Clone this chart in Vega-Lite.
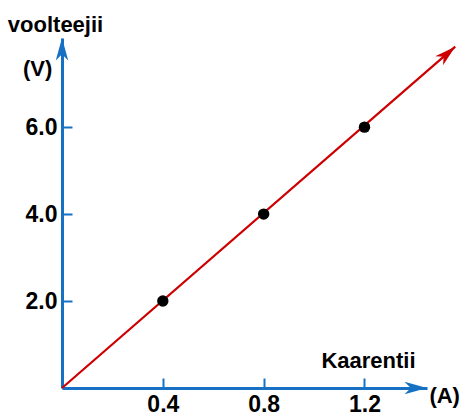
{
  "$schema": "https://vega.github.io/schema/vega-lite/v6.json",
  "width": 365,
  "height": 350,
  "autosize": {"type": "none"},
  "padding": {"left": 62, "top": 38, "right": 35, "bottom": 28},
  "background": "white",
  "config": {
    "view": {"stroke": null},
    "font": "Liberation Sans",
    "axis": {
      "domainColor": "#1670c4",
      "domainWidth": 3,
      "tickColor": "#1670c4",
      "tickWidth": 2,
      "tickSize": -10,
      "grid": false,
      "labelFont": "Liberation Sans",
      "labelFontSize": 23,
      "labelFontWeight": "bold",
      "labelColor": "black",
      "labelFlush": false,
      "labelOverlap": false,
      "titleFont": "Liberation Sans",
      "titleFontSize": 22,
      "titleFontWeight": "bold",
      "titleColor": "black",
      "titleAngle": 0,
      "titleAlign": "center",
      "titleBaseline": "alphabetic"
    }
  },
  "datasets": {
    "points": [
      {"current": 0.4, "voltage": 2},
      {"current": 0.8, "voltage": 4},
      {"current": 1.2, "voltage": 6}
    ],
    "fit": [
      {"current": 0, "voltage": 0},
      {"current": 1.56, "voltage": 7.85}
    ],
    "units": [
      {"label": "(V)", "current": -0.097, "voltage": 7.17},
      {"label": "(A)", "current": 1.518, "voltage": -0.345}
    ]
  },
  "layer": [
    {
      "data": {"name": "fit"},
      "mark": {"type": "line", "color": "#cc0000", "strokeWidth": 2.2},
      "encoding": {
        "x": {
          "field": "current",
          "type": "quantitative",
          "scale": {"domain": [0, 1.448], "nice": false, "zero": false},
          "axis": {
            "values": [0.4, 0.8, 1.2],
            "format": ".1f",
            "labelPadding": 15,
            "title": "Kaarentii",
            "titleX": 306,
            "titleY": -21
          }
        },
        "y": {
          "field": "voltage",
          "type": "quantitative",
          "scale": {"domain": [0, 8.05], "nice": false, "zero": false},
          "axis": {
            "values": [2, 4, 6],
            "format": ".1f",
            "labelPadding": 15,
            "title": "voolteejii",
            "titleX": -7,
            "titleY": -7
          }
        }
      }
    },
    {
      "data": {"name": "fit"},
      "transform": [{"filter": "datum.current > 1"}],
      "mark": {
        "type": "point",
        "shape": "M0,0 L0.5,1.8 L0,1.3 L-0.5,1.8 Z",
        "filled": true,
        "opacity": 1,
        "color": "#cc0000",
        "size": 560,
        "angle": 49
      },
      "encoding": {
        "x": {"field": "current", "type": "quantitative"},
        "y": {"field": "voltage", "type": "quantitative"}
      }
    },
    {
      "data": {"values": [{"current": 1.448, "voltage": 0}]},
      "mark": {
        "type": "point",
        "shape": "M0,0 L0.5,1.8 L0,1.3 L-0.5,1.8 Z",
        "filled": true,
        "opacity": 1,
        "color": "#1670c4",
        "size": 625,
        "angle": 90
      },
      "encoding": {
        "x": {"field": "current", "type": "quantitative"},
        "y": {"field": "voltage", "type": "quantitative"}
      }
    },
    {
      "data": {"values": [{"current": 0, "voltage": 8.05}]},
      "mark": {
        "type": "point",
        "shape": "M0,0 L0.5,1.8 L0,1.3 L-0.5,1.8 Z",
        "filled": true,
        "opacity": 1,
        "color": "#1670c4",
        "size": 625,
        "angle": 0
      },
      "encoding": {
        "x": {"field": "current", "type": "quantitative"},
        "y": {"field": "voltage", "type": "quantitative"}
      }
    },
    {
      "data": {"name": "points"},
      "mark": {"type": "circle", "color": "black", "size": 130, "opacity": 1},
      "encoding": {
        "x": {"field": "current", "type": "quantitative"},
        "y": {"field": "voltage", "type": "quantitative"}
      }
    },
    {
      "data": {"name": "units"},
      "mark": {
        "type": "text",
        "font": "Liberation Sans",
        "fontSize": 22,
        "fontWeight": "bold",
        "color": "black",
        "align": "center",
        "baseline": "alphabetic"
      },
      "encoding": {
        "x": {"field": "current", "type": "quantitative"},
        "y": {"field": "voltage", "type": "quantitative"},
        "text": {"field": "label"}
      }
    }
  ]
}
